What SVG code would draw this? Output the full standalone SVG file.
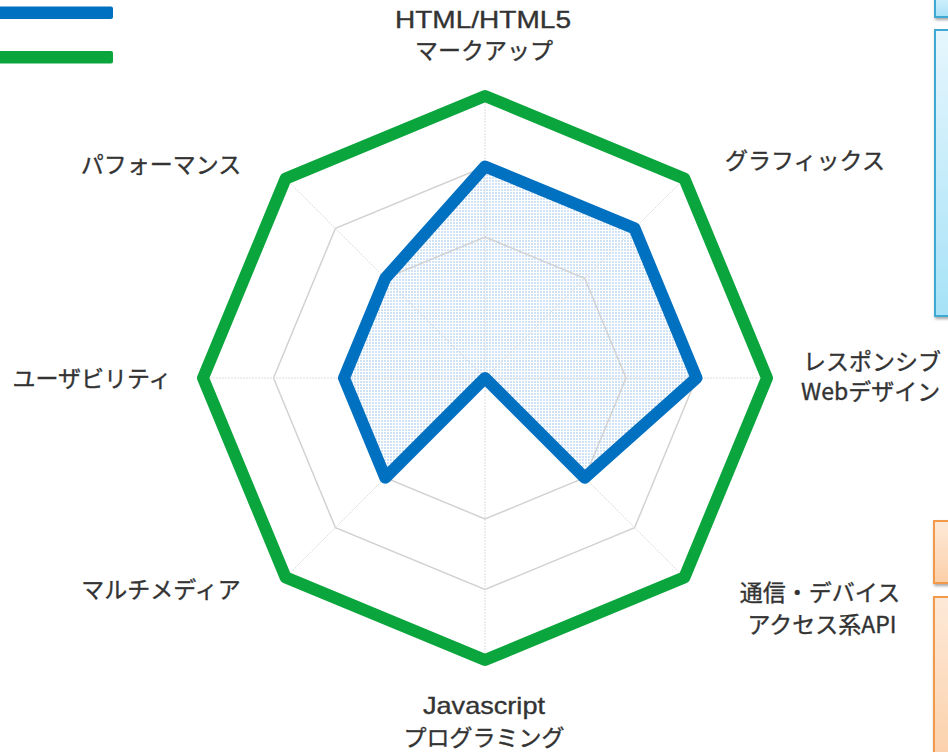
<svg xmlns="http://www.w3.org/2000/svg" width="948" height="752" viewBox="0 0 948 752">
<defs>
  <pattern id="dots" width="3" height="3" patternUnits="userSpaceOnUse">
    <rect width="2" height="2" fill="#cfe2f6"/>
  </pattern>
  <linearGradient id="gBlue" x1="0" y1="0" x2="0" y2="1">
    <stop offset="0" stop-color="#e6f6fd"/>
    <stop offset="1" stop-color="#a6e2f7"/>
  </linearGradient>
  <linearGradient id="gOrange" x1="0" y1="0" x2="0" y2="1">
    <stop offset="0" stop-color="#fde9d8"/>
    <stop offset="1" stop-color="#fbcfa8"/>
  </linearGradient>
  <filter id="sh" x="-20%" y="-20%" width="140%" height="140%">
    <feDropShadow dx="1" dy="2" stdDeviation="1.5" flood-color="#000" flood-opacity="0.35"/>
  </filter>
</defs>
<style>
  .lbl { font-family: "Noto Sans CJK JP", "Liberation Sans", sans-serif; font-size: 23px; fill: #333333; text-anchor: middle; stroke: #333333; stroke-width: 0.35; }
  .lat { font-family: "Liberation Sans", "Noto Sans CJK JP", sans-serif; font-size: 24px; }
  .ring { fill: none; stroke: #d2d2d2; stroke-width: 1.5; }
  .spoke { stroke: #dedede; stroke-width: 1; stroke-dasharray: 2 1; }
  .boxB { fill: url(#gBlue); stroke: #3fa9d2; stroke-width: 2; filter: url(#sh); }
  .boxO { fill: url(#gOrange); stroke: #f29a4a; stroke-width: 2; filter: url(#sh); }
</style>
<rect width="948" height="752" fill="#ffffff"/>

<g id="legend">
  <rect x="-4" y="6.5" width="117" height="12.5" rx="2" fill="#0070c0"/>
  <rect x="-4" y="51" width="117" height="12.5" rx="2" fill="#0aa53c"/>
</g>

<g id="side-boxes">
  <rect class="boxB" x="935" y="-10" width="30" height="27"/>
  <rect class="boxB" x="935" y="30" width="30" height="286"/>
  <rect class="boxO" x="934" y="521" width="30" height="62"/>
  <rect class="boxO" x="934" y="597" width="30" height="170"/>
</g>

<g id="series-blue">
  <polygon points="485,166.5 634.6,228.4 696.5,378 584.7,477.7 485,378 385.3,477.7 344,378 385.3,278.3" fill="url(#dots)" stroke="none"/>
</g>

<g id="grid">
  <polygon class="ring" points="485,237 584.7,278.3 626,378 584.7,477.7 485,519 385.3,477.7 344,378 385.3,278.3"/>
  <polygon class="ring" points="485,166.5 634.6,228.4 696.5,378 634.6,527.6 485,589.5 335.4,527.6 273.5,378 335.4,228.4"/>
</g>

<g id="spokes">
  <line class="spoke" x1="485" y1="378" x2="485" y2="96"/>
  <line class="spoke" x1="485" y1="378" x2="684.4" y2="178.6"/>
  <line class="spoke" x1="485" y1="378" x2="767" y2="378"/>
  <line class="spoke" x1="485" y1="378" x2="684.4" y2="577.4"/>
  <line class="spoke" x1="485" y1="378" x2="485" y2="660"/>
  <line class="spoke" x1="485" y1="378" x2="285.6" y2="577.4"/>
  <line class="spoke" x1="485" y1="378" x2="203" y2="378"/>
  <line class="spoke" x1="485" y1="378" x2="285.6" y2="178.6"/>
</g>

<g id="series-green">
  <polygon points="485,96 684.4,178.6 767,378 684.4,577.4 485,660 285.6,577.4 203,378 285.6,178.6" fill="none" stroke="#0aa53c" stroke-width="12" stroke-linejoin="round"/>
</g>

<g id="series-blue-line">
  <polygon points="485,166.5 634.6,228.4 696.5,378 584.7,477.7 485,378 385.3,477.7 344,378 385.3,278.3" fill="none" stroke="#0070c0" stroke-width="12" stroke-linejoin="round"/>
</g>

<g id="label-html">
  <text class="lbl lat" x="483" y="28" textLength="176" lengthAdjust="spacingAndGlyphs">HTML/HTML5</text>
  <text class="lbl" x="484" y="59">マークアップ</text>
</g>
<g id="label-graphics">
  <text class="lbl" x="805" y="169">グラフィックス</text>
</g>
<g id="label-responsive">
  <text class="lbl" x="803" y="370" style="text-anchor:start">レスポンシブ</text>
  <text class="lbl" x="801" y="400" style="text-anchor:start">Webデザイン</text>
</g>
<g id="label-api">
  <text class="lbl" x="820" y="601">通信・デバイス</text>
  <text class="lbl" x="822" y="633">アクセス系API</text>
</g>
<g id="label-js">
  <text class="lbl lat" x="484" y="714" textLength="122" lengthAdjust="spacingAndGlyphs">Javascript</text>
  <text class="lbl" x="484" y="746">プログラミング</text>
</g>
<g id="label-multimedia">
  <text class="lbl" x="161" y="598">マルチメディア</text>
</g>
<g id="label-usability">
  <text class="lbl" x="92" y="387">ユーザビリティ</text>
</g>
<g id="label-performance">
  <text class="lbl" x="161" y="173">パフォーマンス</text>
</g>
</svg>
